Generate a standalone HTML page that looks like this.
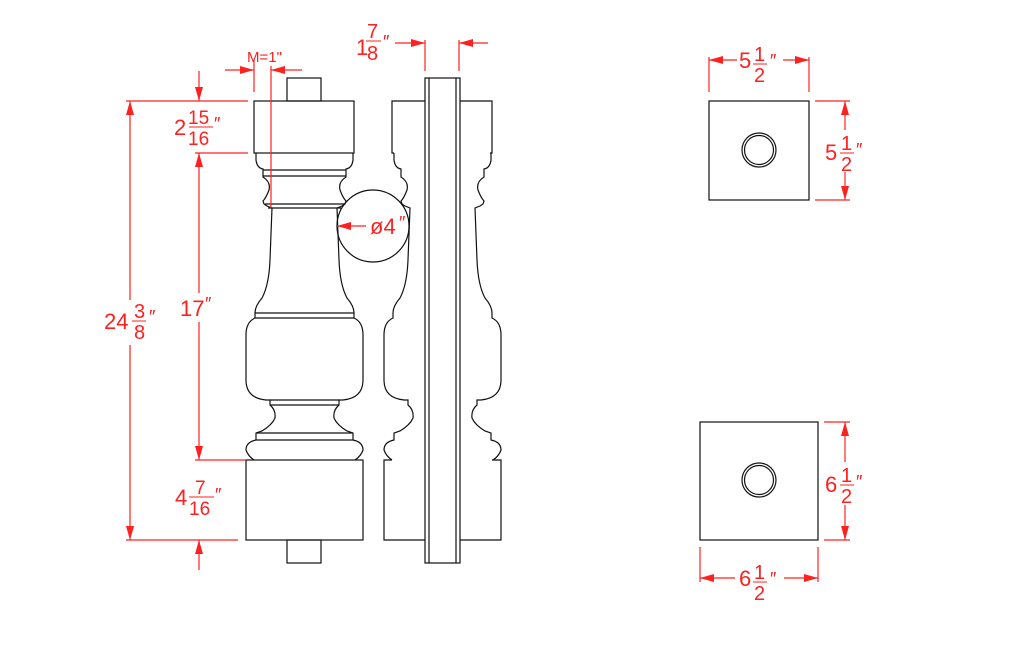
<!DOCTYPE html>
<html><head><meta charset="utf-8"><style>
html,body{margin:0;padding:0;background:#fff}
svg{display:block}
text{font-family:"Liberation Sans",sans-serif;fill:#ff2020}
</style></head><body>
<svg width="1022" height="646" viewBox="0 0 1022 646" xmlns="http://www.w3.org/2000/svg">
<defs>
<path id="prof" d="M256,153 L256,160 Q257,168 263,169 L263,177 Q271,182 269,190 Q266,198 263,201 L264,204 L267,206 L272,208 L270,260 Q269,285 262,298 Q255,306 255,313 L255,318 Q246,322 246,335 L246,380 Q246,398 266,400 L270,400 L270,405 Q276,410 275,418 Q272,425 262,431 L256,433 L256,440 Q246,442 246,450 Q248,456 254,460" fill="none" stroke="#111" stroke-width="1.2"/>
</defs>
<g stroke="#111" stroke-width="1.2" fill="none">
<rect x="287" y="78" width="34" height="23"/>
<rect x="254" y="101" width="100" height="52"/>
<use href="#prof"/>
<use href="#prof" transform="translate(609,0) scale(-1,1)"/>
<line x1="263" y1="170" x2="346" y2="170"/><line x1="263" y1="176" x2="346" y2="176"/>
<line x1="265" y1="204" x2="344" y2="204"/><line x1="268" y1="208" x2="341" y2="208"/>
<line x1="255" y1="313" x2="354" y2="313"/><line x1="255" y1="318" x2="354" y2="318"/>
<line x1="270" y1="400" x2="339" y2="400"/><line x1="270" y1="405" x2="339" y2="405"/>
<line x1="256" y1="433" x2="353" y2="433"/><line x1="256" y1="440" x2="353" y2="440"/>
<rect x="246" y="460" width="117" height="80"/>
<rect x="287" y="540" width="34" height="23"/>
<g transform="translate(138,0)">
<use href="#prof"/>
<use href="#prof" transform="translate(609,0) scale(-1,1)"/>
</g>
<polyline points="394,153 392,153 392,101 425,101"/>
<polyline points="460,101 492,101 492,153 490,153"/>
<polyline points="392,460 384,460 384,540 501,540 501,460 492,460"/>
<rect x="425" y="78" width="35" height="485" fill="#fff"/>
<line x1="429" y1="78" x2="429" y2="563"/><line x1="456" y1="78" x2="456" y2="563"/>
<circle cx="373" cy="226" r="36" fill="none"/>
<rect x="709" y="101" width="100" height="99"/>
<circle cx="759" cy="150" r="17"/><circle cx="759" cy="150" r="14.5"/>
<rect x="700" y="422" width="118" height="118"/>
<circle cx="759" cy="480" r="17"/><circle cx="759" cy="480" r="14.5"/>
</g>
<g stroke="#ff2020" stroke-width="1.2" fill="none">
<line x1="126" y1="101" x2="248" y2="101"/>
<line x1="195" y1="153" x2="248" y2="153"/>
<line x1="195" y1="460" x2="246" y2="460"/>
<line x1="126" y1="540" x2="238" y2="540"/>
<line x1="130" y1="101" x2="130" y2="300"/><line x1="130" y1="345" x2="130" y2="540"/>
<line x1="199" y1="71" x2="199" y2="101"/>
<line x1="199" y1="153" x2="199" y2="293"/><line x1="199" y1="322" x2="199" y2="460"/>
<line x1="199" y1="540" x2="199" y2="570"/>
<line x1="254" y1="60" x2="254" y2="92"/><line x1="271" y1="66" x2="271" y2="208"/>
<line x1="225" y1="70" x2="254" y2="70"/><line x1="271" y1="70" x2="302" y2="70"/>
<line x1="425" y1="40" x2="425" y2="71"/><line x1="459" y1="40" x2="459" y2="71"/>
<line x1="395" y1="43" x2="425" y2="43"/><line x1="459" y1="43" x2="488" y2="43"/>
<line x1="337" y1="226" x2="366" y2="226"/>
<line x1="709" y1="57" x2="709" y2="92"/><line x1="809" y1="57" x2="809" y2="92"/>
<line x1="709" y1="60" x2="737" y2="60"/><line x1="783" y1="60" x2="809" y2="60"/>
<line x1="815" y1="101" x2="850" y2="101"/><line x1="815" y1="200" x2="850" y2="200"/>
<line x1="845" y1="101" x2="845" y2="130"/><line x1="845" y1="172" x2="845" y2="200"/>
<line x1="824" y1="422" x2="850" y2="422"/><line x1="824" y1="540" x2="850" y2="540"/>
<line x1="845" y1="422" x2="845" y2="462"/><line x1="845" y1="505" x2="845" y2="540"/>
<line x1="700" y1="547" x2="700" y2="582"/><line x1="818" y1="547" x2="818" y2="582"/>
<line x1="700" y1="578" x2="735" y2="578"/><line x1="784" y1="578" x2="818" y2="578"/>
</g>
<g fill="#ff2020">
<polygon points="130,101 126,115 134,115"/><polygon points="130,540 126,526 134,526"/>
<polygon points="199,101 195,87 203,87"/><polygon points="199,153 195,167 203,167"/>
<polygon points="199,460 195,446 203,446"/><polygon points="199,540 195,554 203,554"/>
<polygon points="254,70 240,66 240,74"/><polygon points="271,70 285,66 285,74"/>
<polygon points="425,43 411,39 411,47"/><polygon points="459,43 473,39 473,47"/>
<polygon points="337,226 351,222 351,230"/>
<polygon points="709,60 723,56 723,64"/><polygon points="809,60 795,56 795,64"/>
<polygon points="845,101 841,115 849,115"/><polygon points="845,200 841,186 849,186"/>
<polygon points="845,422 841,436 849,436"/><polygon points="845,540 841,526 849,526"/>
<polygon points="700,578 714,574 714,582"/><polygon points="818,578 804,574 804,582"/>
</g>
<g stroke="#ff2020" stroke-width="1">
<line x1="189" y1="127" x2="213" y2="127"/>
<line x1="132" y1="321" x2="146" y2="321"/>
<line x1="189" y1="497" x2="214" y2="497"/>
<line x1="366" y1="41" x2="381" y2="41"/>
<line x1="753" y1="64" x2="767" y2="64"/>
<line x1="840" y1="153" x2="854" y2="153"/>
<line x1="840" y1="485" x2="854" y2="485"/>
<line x1="753" y1="582" x2="767" y2="582"/>
</g>
<g font-size="22">
<text x="174" y="135">2</text><text x="188" y="124" font-size="19">15</text><text x="188" y="145" font-size="19">16</text><text x="214" y="130" font-size="18">″</text>
<text x="180" y="316">17</text><text x="205" y="310" font-size="18">″</text>
<text x="104" y="329">24</text><text x="134" y="318" font-size="20">3</text><text x="134" y="339" font-size="20">8</text><text x="149" y="323" font-size="18">″</text>
<text x="175" y="505">4</text><text x="195" y="494" font-size="19">7</text><text x="189" y="515" font-size="19">16</text><text x="215" y="501" font-size="18">″</text>
<text x="356" y="55">1</text><text x="367" y="38" font-size="20">7</text><text x="367" y="60" font-size="20">8</text><text x="383" y="48" font-size="18">″</text>
<text x="247" y="62" font-size="15">M=1"</text>
<text x="370" y="234">ø4</text><text x="399" y="229" font-size="18">″</text>
<text x="739" y="68">5</text><text x="754" y="61" font-size="20">1</text><text x="754" y="82" font-size="20">2</text><text x="770" y="67" font-size="18">″</text>
<text x="825" y="160">5</text><text x="841" y="150" font-size="20">1</text><text x="841" y="171" font-size="20">2</text><text x="856" y="156" font-size="18">″</text>
<text x="825" y="492">6</text><text x="841" y="482" font-size="20">1</text><text x="841" y="503" font-size="20">2</text><text x="856" y="488" font-size="18">″</text>
<text x="739" y="586">6</text><text x="754" y="579" font-size="20">1</text><text x="754" y="600" font-size="20">2</text><text x="770" y="585" font-size="18">″</text>
</g>
</svg>
</body></html>
